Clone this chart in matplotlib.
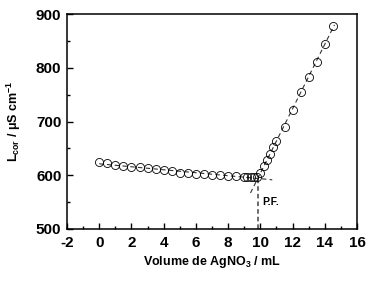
import numpy as np
import matplotlib
matplotlib.use("Agg")
import matplotlib.pyplot as plt
from matplotlib.ticker import MultipleLocator

plt.rcParams['font.family'] = ['Liberation Sans', 'DejaVu Sans']
plt.rcParams['axes.unicode_minus'] = False
plt.rcParams['mathtext.fontset'] = 'custom'
plt.rcParams['mathtext.rm'] = 'Liberation Sans:bold'
plt.rcParams['mathtext.it'] = 'Liberation Sans:bold'
plt.rcParams['mathtext.bf'] = 'Liberation Sans:bold'

# data: volume (mL) and corrected conductance (uS/cm)
vol_before = [0.0, 0.5, 1.0, 1.5, 2.0, 2.5, 3.0, 3.5, 4.0, 4.5, 5.0, 5.5, 6.0,
              6.5, 7.0, 7.5, 8.0, 8.5, 9.0, 9.2, 9.4, 9.6, 9.8]
cond_before = [624, 622, 619, 617, 616, 615, 613, 611, 609, 607, 605, 604, 603,
               602, 601, 600, 599, 598, 597, 597, 597, 596, 596]
vol_after = [10.0, 10.2, 10.4, 10.6, 10.8, 11.0, 11.5, 12.0, 12.5, 13.0, 13.5, 14.0, 14.5]
cond_after = [605, 618, 628, 640, 652, 663, 690, 722, 755, 782, 811, 845, 877]
pf_label = "P.F."

fig = plt.figure(figsize=(3.69, 2.82), dpi=100)
ax = fig.add_axes([67/369, 1 - 229/282, 290/369, 215/282])

# linear fits
p1 = np.polyfit(vol_before, cond_before, 1)
p2 = np.polyfit(vol_after, cond_after, 1)
xpf = (p1[1] - p2[1]) / (p2[0] - p1[0])
ypf = np.polyval(p1, xpf)

xa = np.array([vol_before[0], xpf + 0.9])
ax.plot(xa, np.polyval(p1, xa), ls=(0, (4, 3)), color='#333333', lw=0.8, zorder=2)
xb = np.array([xpf - 0.45, vol_after[-1] + 0.1])
ax.plot(xb, np.polyval(p2, xb), ls=(0, (4, 3)), color='#333333', lw=0.8, zorder=2)
ax.plot([xpf, xpf], [500, ypf], ls=(0, (3, 2)), color='#444444', lw=1.1, zorder=2)

ax.plot(vol_before + vol_after, cond_before + cond_after, 'o', ls='none',
        mfc='none', mec='black', ms=5.8, mew=0.6, zorder=3)

ax.text(xpf + 0.25, 550, pf_label, fontsize=7.5, fontweight='bold', va='center', ha='left')

ax.set_xlim(-2, 16)
ax.set_ylim(500, 900)
ax.xaxis.set_major_locator(MultipleLocator(2))
ax.xaxis.set_minor_locator(MultipleLocator(1))
ax.yaxis.set_major_locator(MultipleLocator(100))
ax.yaxis.set_minor_locator(MultipleLocator(50))
ax.tick_params(which='both', direction='in', top=False, right=False, width=1.0)
ax.tick_params(which='major', length=4, labelsize=11)
ax.tick_params(axis='x', which='major', pad=5)
ax.tick_params(axis='y', which='major', pad=4)
ax.tick_params(which='minor', length=2.5)
for lbl in ax.get_xticklabels() + ax.get_yticklabels():
    lbl.set_fontweight('bold')
for s in ax.spines.values():
    s.set_linewidth(1.1)

ax.set_xlabel(r"Volume de AgNO$_3$ / mL", fontsize=9, fontweight='bold', labelpad=3)
ax.set_ylabel(r"L$_{cor}$ / $\mathrm{\mu}$S cm$^{-1}$", fontsize=9, fontweight='bold', labelpad=9)

fig.savefig("out.png", dpi=100)
